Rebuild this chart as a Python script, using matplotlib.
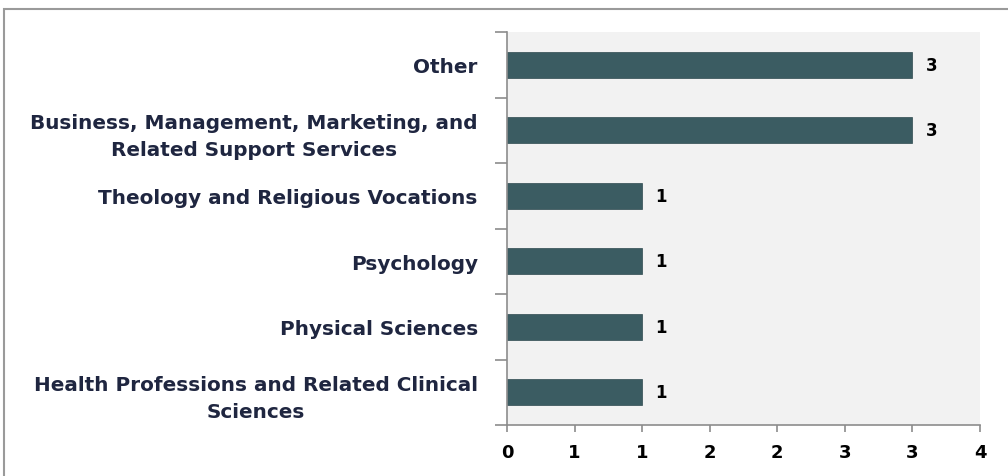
import matplotlib
matplotlib.use("Agg")
import matplotlib.pyplot as plt
from matplotlib.ticker import MultipleLocator, FuncFormatter, FixedLocator
from matplotlib.patches import Rectangle

# data (top to bottom as shown)
categories = [
    "Other",
    "Business, Management, Marketing, and\nRelated Support Services",
    "Theology and Religious Vocations",
    "Psychology",
    "Physical Sciences",
    "Health Professions and Related Clinical\nSciences",
]
counts = [3, 3, 1, 1, 1, 1]

bar_color = "#3b5c62"
axis_gray = "#8c8c8c"
text_color = "#1f2640"

plt.rcParams['font.family'] = ['DejaVu Sans']

fig = plt.figure(figsize=(10.08, 4.77), dpi=100)
ax = fig.add_axes([507 / 1008, 1 - 426 / 477, 473 / 1008, 393 / 477])
ax.set_facecolor("#f2f2f2")

n = len(categories)
ypos = list(range(n))[::-1]
ax.barh(ypos, counts, height=0.4, color=bar_color, edgecolor="#2e4a4f", linewidth=0.5)

for y, v in zip(ypos, counts):
    ax.text(v + 0.1, y, str(v), va="center", ha="left", fontsize=12,
            fontweight="bold", color="black")

ax.set_xlim(0, 3.5)
ax.set_ylim(-0.5, n - 0.5)

ax.set_yticks(ypos)
ax.set_yticklabels(categories, fontsize=14.4, color=text_color,
                   fontweight="bold", multialignment="center",
                   linespacing=1.5)
ax.yaxis.set_minor_locator(FixedLocator([i - 0.5 for i in range(n + 1)]))
ax.tick_params(axis="y", which="major", length=0, pad=21)
ax.tick_params(axis="y", which="minor", length=9, color=axis_gray, width=1.2)

ax.xaxis.set_major_locator(MultipleLocator(0.5))
ax.xaxis.set_major_formatter(FuncFormatter(lambda x, p: str(int(x + 0.5))))
ax.tick_params(axis="x", length=5, color=axis_gray, width=1.2, pad=8,
               labelsize=13, labelcolor="black")
for lbl in ax.get_xticklabels():
    lbl.set_fontweight("bold")

for s in ["top", "right"]:
    ax.spines[s].set_visible(False)
for s in ["left", "bottom"]:
    ax.spines[s].set_color(axis_gray)
    ax.spines[s].set_linewidth(1.2)

# outer chart frame (cut off at the right and bottom edges)
frame = Rectangle((4 / 1008, -0.1), 1.2, 1 - 10 / 477 + 0.1,
                  transform=fig.transFigure, fill=False,
                  edgecolor="#9a9a9a", linewidth=1.5, clip_on=False)
fig.patches.append(frame)

fig.savefig("out.png", dpi=100)
